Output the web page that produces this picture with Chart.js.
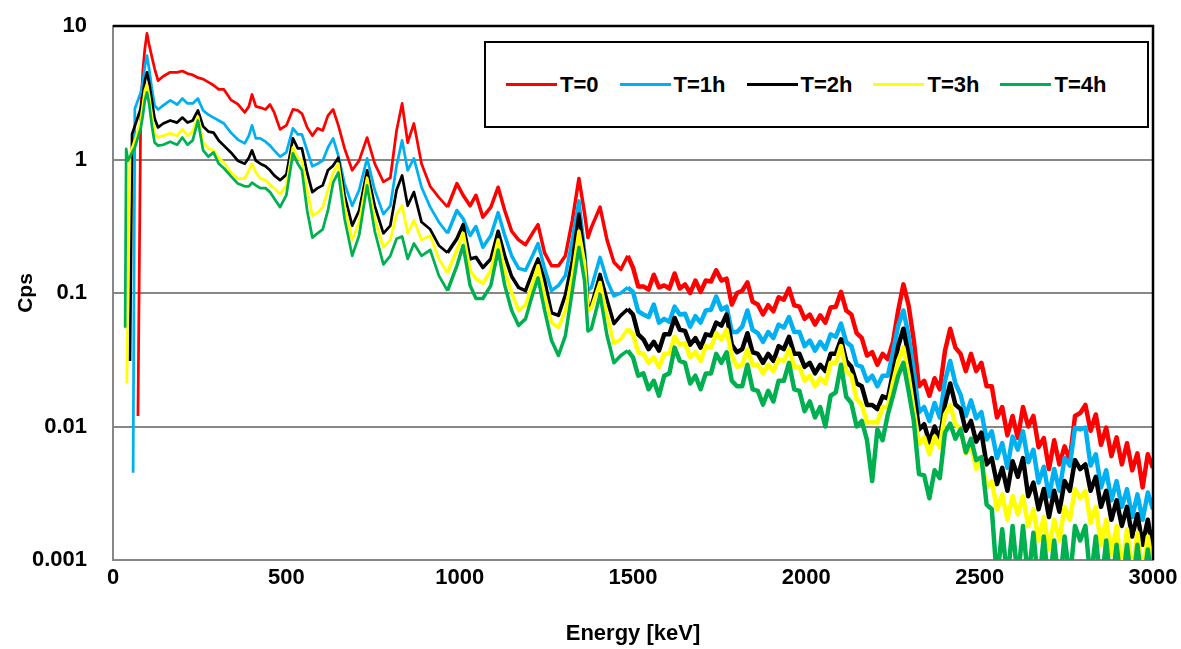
<!DOCTYPE html>
<html>
<head>
<meta charset="utf-8">
<title>Cps vs Energy</title>
<script src="https://cdn.jsdelivr.net/npm/chart.js@4.4.1/dist/chart.umd.min.js"></script>
<style>
    body { margin: 0; background: #fff; }
    #wrap { position: relative; width: 1181px; height: 649px; }
    #legendBox {
        position: absolute; left: 484px; top: 41px; width: 665px; height: 87px;
        box-sizing: border-box; border: 2px solid #000; background: #fff;
        display: flex; align-items: center; padding-left: 20px;
        font: bold 22px "Liberation Sans", Arial, sans-serif; color: #000;
    }
    .item { display: flex; align-items: center; margin-right: 21px; }
    .swatch { width: 51px; height: 3px; margin-right: 3px; }
</style>
</head>
<body>
<div id="wrap">
    <canvas id="spectrumChart"></canvas>
    <div id="legendBox"></div>
</div>
<script>
// series labels and colours
const seriesNames = ['T=0', 'T=1h', 'T=2h', 'T=3h', 'T=4h'];
const seriesColors = ['#FF0000', '#00B0F0', '#000000', '#FFFF00', '#00B050'];
const yTicks = [0.001, 0.01, 0.1, 1, 10];

// energy grid shared by all traces (keV)
const energyKeV = [
    80, 86, 92, 98, 104, 112, 120, 130, 145, 165,
    185, 200, 215, 230, 245, 260, 275, 290, 305, 320,
    340, 360, 380, 392, 401, 412, 425, 440, 453, 465,
    482, 500, 519, 533, 545, 560, 575, 590, 605, 620,
    635, 650, 668, 690, 710, 733, 755, 780, 800, 818,
    834, 850, 868, 890, 915, 940, 965, 992, 1010, 1030,
    1047, 1067, 1090, 1111, 1130, 1150, 1170, 1190, 1210, 1226,
    1245, 1265, 1285, 1305, 1325, 1344, 1360, 1370, 1380, 1405,
    1425, 1445, 1465, 1485, 1500, 1515, 1530, 1545, 1560, 1575,
    1590, 1605, 1620, 1635, 1650, 1665, 1680, 1695, 1710, 1725,
    1740, 1755, 1770, 1785, 1800, 1815, 1830, 1845, 1860, 1875,
    1890, 1905, 1920, 1935, 1950, 1965, 1980, 1995, 2010, 2025,
    2040, 2055, 2070, 2085, 2100, 2115, 2130, 2145, 2160, 2175,
    2190, 2205, 2220, 2235, 2250, 2265, 2280, 2295, 2310, 2325,
    2340, 2355, 2370, 2385, 2400, 2415, 2430, 2445, 2460, 2475,
    2490, 2505, 2520, 2535, 2550, 2565, 2580, 2595, 2610, 2625,
    2640, 2655, 2670, 2685, 2700, 2715, 2730, 2745, 2760, 2775,
    2790, 2805, 2820, 2835, 2850, 2865, 2880, 2895, 2910, 2925,
    2940, 2955, 2970, 2985, 3000
];

// low energy points where each trace starts [keV, cps]
const startT0 = [[72, 0.012]];
const startT1h = [[58, 0.0045], [63, 2.4]];
const startT2h = [[49, 0.031], [55, 1.55]];
const startT3h = [[40, 0.021], [49, 1.1], [66, 1.46]];
const startT4h = [[35, 0.055], [38, 1.2], [43, 0.98], [63, 1.23]];

// counts per second on the energy grid
const cpsT0 = [
    2.33, 4.6, 6.8, 8.8, 7.3, 5.9, 4.8, 3.9, 4.2, 4.5,
    4.5, 4.6, 4.4, 4.3, 4.1, 4.0, 3.8, 3.6, 3.35, 3.35,
    2.8, 2.6, 2.25, 2.5, 3.07, 2.5, 2.45, 2.37, 2.58, 2.25,
    1.68, 1.8, 2.37, 2.33, 2.21, 1.74, 1.51, 1.71, 1.65, 2.13,
    2.37, 1.8, 1.21, 0.83, 0.98, 1.46, 0.93, 0.68, 0.73, 1.65,
    2.63, 1.34, 1.86, 0.93, 0.63, 0.52, 0.44, 0.66, 0.54, 0.45,
    0.54, 0.37, 0.44, 0.62, 0.415, 0.29, 0.25, 0.23, 0.28, 0.325,
    0.2, 0.16, 0.16, 0.19, 0.35, 0.72, 0.40, 0.26, 0.31, 0.44,
    0.25, 0.17, 0.15, 0.19, 0.155, 0.112, 0.112, 0.106, 0.137, 0.11,
    0.114, 0.108, 0.14, 0.108, 0.116, 0.1, 0.124, 0.102, 0.124, 0.122,
    0.148, 0.124, 0.128, 0.082, 0.1, 0.104, 0.12, 0.086, 0.082, 0.069,
    0.081, 0.073, 0.093, 0.089, 0.108, 0.081, 0.079, 0.064, 0.069, 0.058,
    0.068, 0.06, 0.078, 0.079, 0.102, 0.074, 0.069, 0.05, 0.046, 0.034,
    0.036, 0.029, 0.035, 0.032, 0.043, 0.074, 0.116, 0.081, 0.044, 0.02,
    0.022, 0.017, 0.023, 0.019, 0.037, 0.054, 0.039, 0.035, 0.026, 0.035,
    0.026, 0.03, 0.02, 0.02, 0.0117, 0.014, 0.0086, 0.012, 0.0082, 0.014,
    0.01, 0.012, 0.007, 0.0082, 0.0048, 0.0079, 0.0052, 0.0071, 0.0056, 0.012,
    0.0126, 0.0145, 0.0093, 0.0123, 0.0073, 0.0098, 0.006, 0.0083, 0.0052, 0.0075,
    0.0047, 0.0063, 0.0035, 0.0062, 0.0049
];
const cpsT1h = [
    3.18, 3.8, 5.0, 6.0, 4.8, 3.4, 2.54, 2.37, 2.54, 2.77,
    2.58, 2.86, 2.63, 2.63, 2.86, 2.33, 2.17, 2.06, 1.96, 1.86,
    1.59, 1.41, 1.32, 1.51, 1.8, 1.44, 1.44, 1.36, 1.27, 1.17,
    1.05, 1.13, 1.71, 1.54, 1.54, 1.17, 0.89, 0.93, 0.98, 1.23,
    1.44, 1.07, 0.66, 0.45, 0.59, 1.02, 0.59, 0.39, 0.45, 0.9,
    1.39, 0.83, 1.02, 0.62, 0.44, 0.34, 0.28, 0.415, 0.36, 0.27,
    0.315, 0.22, 0.27, 0.40, 0.27, 0.19, 0.153, 0.148, 0.19, 0.235,
    0.153, 0.104, 0.114, 0.135, 0.25, 0.49, 0.21, 0.104, 0.11, 0.185,
    0.124, 0.095, 0.1, 0.11, 0.102, 0.073, 0.069, 0.066, 0.082, 0.06,
    0.064, 0.061, 0.079, 0.069, 0.07, 0.056, 0.067, 0.06, 0.074, 0.075,
    0.094, 0.075, 0.079, 0.051, 0.051, 0.056, 0.074, 0.053, 0.05, 0.043,
    0.051, 0.046, 0.058, 0.055, 0.066, 0.051, 0.051, 0.04, 0.044, 0.037,
    0.043, 0.038, 0.049, 0.047, 0.059, 0.043, 0.04, 0.029, 0.028, 0.022,
    0.024, 0.02, 0.024, 0.024, 0.036, 0.057, 0.074, 0.048, 0.026, 0.0128,
    0.014, 0.011, 0.015, 0.0117, 0.022, 0.031, 0.021, 0.0173, 0.012, 0.0157,
    0.0115, 0.0128, 0.008, 0.0092, 0.0058, 0.0075, 0.0049, 0.0084, 0.0067, 0.0092,
    0.0054, 0.0067, 0.0038, 0.005, 0.003, 0.0048, 0.0033, 0.0058, 0.0051, 0.0098,
    0.0095, 0.0098, 0.0051, 0.0062, 0.0035, 0.0047, 0.0028, 0.0039, 0.0025, 0.0034,
    0.0021, 0.0031, 0.002, 0.0032, 0.0024
];
const cpsT2h = [
    2.41, 3.0, 3.9, 4.5, 3.8, 2.77, 2.03, 1.74, 1.86, 1.96,
    1.89, 2.06, 1.89, 1.96, 2.33, 1.77, 1.62, 1.59, 1.39, 1.27,
    1.13, 0.98, 0.93, 1.03, 1.17, 0.98, 0.93, 0.89, 0.83, 0.76,
    0.70, 0.77, 1.44, 1.21, 1.21, 0.8, 0.57, 0.61, 0.64, 0.83,
    0.90, 1.03, 0.54, 0.32, 0.415, 0.83, 0.45, 0.28, 0.32, 0.59,
    0.76, 0.45, 0.57, 0.34, 0.30, 0.227, 0.20, 0.255, 0.325, 0.18,
    0.185, 0.155, 0.18, 0.29, 0.19, 0.133, 0.11, 0.104, 0.143, 0.18,
    0.124, 0.071, 0.068, 0.097, 0.175, 0.39, 0.19, 0.078, 0.081, 0.138,
    0.089, 0.059, 0.068, 0.076, 0.069, 0.049, 0.045, 0.038, 0.043, 0.037,
    0.049, 0.049, 0.065, 0.053, 0.052, 0.041, 0.046, 0.039, 0.049, 0.048,
    0.06, 0.057, 0.069, 0.041, 0.036, 0.038, 0.05, 0.036, 0.035, 0.03,
    0.035, 0.031, 0.04, 0.038, 0.047, 0.035, 0.035, 0.028, 0.03, 0.025,
    0.029, 0.026, 0.035, 0.035, 0.045, 0.031, 0.028, 0.021, 0.02, 0.0145,
    0.0145, 0.0135, 0.0168, 0.0162, 0.0253, 0.04, 0.054, 0.034, 0.0185, 0.0095,
    0.0104, 0.0076, 0.01, 0.008, 0.0146, 0.021, 0.0146, 0.0135, 0.0093, 0.011,
    0.0077, 0.009, 0.0052, 0.0058, 0.0037, 0.0049, 0.0033, 0.0055, 0.0042, 0.0058,
    0.003, 0.0038, 0.0024, 0.0034, 0.0021, 0.0033, 0.0023, 0.0039, 0.0033, 0.0056,
    0.0048, 0.0052, 0.0033, 0.0042, 0.0025, 0.0033, 0.002, 0.0028, 0.0018, 0.0025,
    0.0015, 0.0022, 0.0013, 0.002, 0.0012
];
const cpsT3h = [
    1.96, 2.54, 3.3, 3.65, 3.0, 2.13, 1.57, 1.46, 1.51, 1.57,
    1.51, 1.68, 1.51, 1.62, 2.1, 1.34, 1.21, 1.17, 1.02, 0.95,
    0.8, 0.72, 0.72, 0.83, 0.93, 0.8, 0.72, 0.70, 0.65, 0.61,
    0.55, 0.64, 1.23, 1.03, 0.98, 0.59, 0.38, 0.40, 0.44, 0.59,
    0.8, 0.93, 0.45, 0.25, 0.34, 0.73, 0.36, 0.22, 0.25, 0.39,
    0.45, 0.28, 0.35, 0.25, 0.27, 0.18, 0.142, 0.21, 0.28, 0.148,
    0.128, 0.118, 0.148, 0.25, 0.148, 0.1, 0.074, 0.081, 0.118, 0.16,
    0.097, 0.06, 0.055, 0.074, 0.135, 0.29, 0.17, 0.074, 0.077, 0.12,
    0.068, 0.042, 0.045, 0.054, 0.049, 0.036, 0.035, 0.03, 0.033, 0.028,
    0.035, 0.035, 0.047, 0.041, 0.042, 0.033, 0.036, 0.031, 0.04, 0.039,
    0.05, 0.045, 0.053, 0.034, 0.028, 0.029, 0.038, 0.029, 0.029, 0.025,
    0.029, 0.026, 0.032, 0.031, 0.038, 0.028, 0.028, 0.022, 0.024, 0.02,
    0.023, 0.021, 0.03, 0.03, 0.04, 0.026, 0.024, 0.016, 0.0146, 0.0107,
    0.0108, 0.0107, 0.014, 0.014, 0.0213, 0.031, 0.039, 0.024, 0.0132, 0.0074,
    0.0083, 0.0062, 0.0084, 0.007, 0.0123, 0.0145, 0.0104, 0.0095, 0.0063, 0.0073,
    0.0048, 0.0058, 0.0035, 0.0039, 0.0024, 0.0031, 0.002, 0.003, 0.0022, 0.003,
    0.0018, 0.0024, 0.0014, 0.0021, 0.0012, 0.002, 0.0014, 0.0025, 0.002, 0.0034,
    0.0029, 0.0033, 0.0019, 0.0025, 0.0013, 0.002, 0.0011, 0.0018, 0.0008, 0.0017,
    0.0008, 0.0016, 0.0008, 0.0015, 0.0009
];
const cpsT4h = [
    1.71, 2.13, 2.77, 3.18, 2.63, 1.8, 1.34, 1.27, 1.29, 1.36,
    1.29, 1.46, 1.29, 1.39, 1.96, 1.17, 1.05, 1.13, 0.93, 0.86,
    0.75, 0.66, 0.63, 0.63, 0.67, 0.64, 0.61, 0.61, 0.57, 0.51,
    0.44, 0.54, 1.11, 0.93, 0.83, 0.415, 0.26, 0.28, 0.30, 0.415,
    0.67, 0.8, 0.36, 0.19, 0.27, 0.64, 0.29, 0.164, 0.19, 0.255,
    0.265, 0.18, 0.235, 0.19, 0.21, 0.135, 0.104, 0.16, 0.227, 0.114,
    0.091, 0.091, 0.114, 0.21, 0.114, 0.074, 0.057, 0.064, 0.097, 0.13,
    0.074, 0.044, 0.034, 0.048, 0.104, 0.22, 0.124, 0.052, 0.054, 0.097,
    0.048, 0.03, 0.034, 0.037, 0.033, 0.024, 0.025, 0.019, 0.022, 0.017,
    0.024, 0.025, 0.039, 0.031, 0.03, 0.021, 0.024, 0.019, 0.025, 0.025,
    0.035, 0.03, 0.036, 0.022, 0.02, 0.02, 0.029, 0.019, 0.0185, 0.0146,
    0.0185, 0.0154, 0.022, 0.022, 0.03, 0.019, 0.0185, 0.013, 0.0154, 0.0117,
    0.014, 0.01, 0.017, 0.018, 0.029, 0.0167, 0.015, 0.01, 0.011, 0.0079,
    0.0039, 0.0095, 0.0079, 0.0123, 0.017, 0.024, 0.03, 0.0185, 0.011, 0.0044,
    0.0043, 0.0029, 0.0047, 0.0041, 0.009, 0.0105, 0.0081, 0.0095, 0.0064, 0.0081,
    0.0056, 0.0059, 0.0026, 0.0024, 0.0007, 0.0017, 0.0007, 0.0018, 0.0007, 0.0018,
    0.0007, 0.0016, 0.0006, 0.0015, 0.0006, 0.0014, 0.0006, 0.0015, 0.0007, 0.0018,
    0.0014, 0.0018, 0.0007, 0.0015, 0.0006, 0.0014, 0.0006, 0.0013, 0.0006, 0.0013,
    0.0006, 0.0013, 0.0006, 0.0012, 0.0006
];

const startPoints = [startT0, startT1h, startT2h, startT3h, startT4h];
const seriesValues = [cpsT0, cpsT1h, cpsT2h, cpsT3h, cpsT4h];

// join the start points and the grid values into {x, y} points
function buildPoints(start, values) {
    let points = start.map(p => ({ x: p[0], y: p[1] }));
    for (let i = 0; i < energyKeV.length; i++) {
        points.push({ x: energyKeV[i], y: values[i] });
    }
    return points;
}

// the traces get noisier (thicker) at high energy
function traceWidth(ctx) {
    const e = ctx.p0.parsed.x;
    if (e >= 1480) return 4.5;
    if (e >= 950) return 3.5;
    return 2.75;
}

// black top and right frame of the plot area
const frameLines = {
    id: 'frameLines',
    afterDraw(chart) {
        const ctx = chart.ctx;
        const a = chart.chartArea;
        ctx.save();
        ctx.strokeStyle = '#000';
        ctx.lineWidth = 2.5;
        ctx.beginPath();
        ctx.moveTo(a.left, a.top);
        ctx.lineTo(a.right, a.top);
        ctx.lineTo(a.right, a.bottom);
        ctx.stroke();
        ctx.restore();
    }
};

const fontFamily = '"Liberation Sans", Arial, sans-serif';
const gridGray = '#878787';

const datasets = seriesNames.map((name, i) => ({
    label: name,
    data: buildPoints(startPoints[i], seriesValues[i]),
    borderColor: seriesColors[i],
    backgroundColor: seriesColors[i],
    borderWidth: 2.75,
    borderJoinStyle: 'round',
    segment: { borderWidth: traceWidth },
    pointRadius: 0,
    tension: 0,
    fill: false,
    order: seriesNames.length - 1 - i
}));

new Chart(document.getElementById('spectrumChart'), {
    type: 'line',
    data: { datasets: datasets },
    options: {
        responsive: true,
        maintainAspectRatio: false,
        animation: false,
        layout: { padding: { left: 0, top: 26, right: 28, bottom: 0 } },
        plugins: {
            legend: { display: false },
            tooltip: { enabled: false }
        },
        scales: {
            x: {
                type: 'linear',
                min: 0,
                max: 3000,
                afterFit: (scale) => {
                    scale.height = 89;
                    scale.paddingLeft = 0;
                    scale.paddingRight = 0;
                },
                ticks: {
                    stepSize: 500,
                    color: '#000',
                    padding: 5,
                    maxRotation: 0,
                    font: { family: fontFamily, size: 22, weight: 'bold' },
                    callback: (value) => String(value)
                },
                grid: { display: false, drawTicks: false },
                border: { display: true, color: gridGray, width: 2 },
                title: {
                    display: true,
                    text: 'Energy [keV]',
                    color: '#000',
                    padding: { top: 0, bottom: 2 },
                    font: { family: fontFamily, size: 22, weight: 'bold' }
                }
            },
            y: {
                type: 'logarithmic',
                min: 0.001,
                max: 10,
                afterFit: (scale) => {
                    scale.width = 113;
                    scale.paddingTop = 0;
                    scale.paddingBottom = 0;
                },
                afterBuildTicks: (scale) => {
                    scale.ticks = yTicks.map(v => ({ value: v }));
                },
                ticks: {
                    color: '#000',
                    padding: 26,
                    font: { family: fontFamily, size: 22, weight: 'bold' },
                    callback: (value) => String(value)
                },
                grid: { color: gridGray, lineWidth: 2, drawTicks: false },
                border: { display: true, color: gridGray, width: 2 },
                title: {
                    display: true,
                    text: 'Cps',
                    color: '#000',
                    padding: { top: 14, bottom: 0 },
                    font: { family: fontFamily, size: 21, weight: 'bold' }
                }
            }
        }
    },
    plugins: [frameLines]
});

// legend box drawn over the plot, like the original
const legendBox = document.getElementById('legendBox');
seriesNames.forEach((name, i) => {
    const item = document.createElement('div');
    item.className = 'item';
    const swatch = document.createElement('span');
    swatch.className = 'swatch';
    swatch.style.background = seriesColors[i];
    const label = document.createElement('span');
    label.textContent = name;
    item.appendChild(swatch);
    item.appendChild(label);
    legendBox.appendChild(item);
});
</script>
</body>
</html>
